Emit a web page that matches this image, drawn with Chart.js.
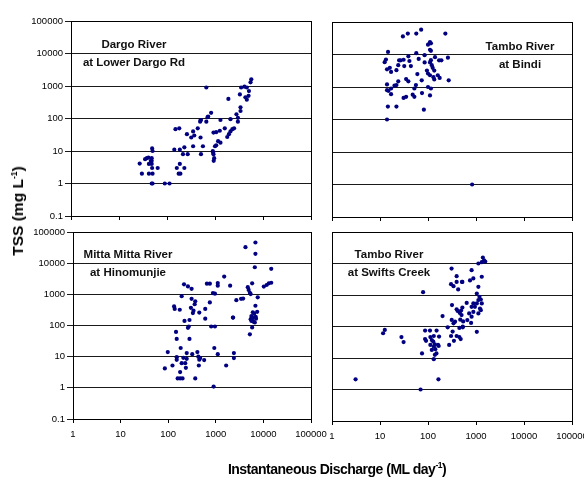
<!DOCTYPE html>
<html>
<head>
<meta charset="utf-8">
<script src="https://cdn.jsdelivr.net/npm/chart.js@4.4.1/dist/chart.umd.min.js"></script>
<style>
body{margin:0;width:584px;height:483px;overflow:hidden;background:#fff;position:relative;font-family:'Liberation Sans',Arial,sans-serif}
canvas{position:absolute;left:0;top:0}
.site{position:absolute;font-weight:bold;font-size:11.5px;line-height:18px;text-align:center;white-space:nowrap;transform:translateX(-50%);color:#111}
#ytitle{position:absolute;left:18px;top:211px;font-weight:bold;font-size:15.5px;white-space:nowrap;transform:translate(-50%,-50%) rotate(-90deg)}
#xtitle{position:absolute;left:337px;top:469px;font-weight:bold;font-size:14px;letter-spacing:-0.5px;white-space:nowrap;transform:translate(-50%,-50%)}
sup{font-size:8.5px;vertical-align:6px;line-height:0}
</style>
</head>
<body>
<canvas id="dargo" width="600" height="483"></canvas>
<canvas id="bindi" width="600" height="483"></canvas>
<canvas id="mitta" width="600" height="483"></canvas>
<canvas id="swifts" width="600" height="483"></canvas>
<div class="site" style="left:134px;top:35px">Dargo River<br>at Lower Dargo Rd</div>
<div class="site" style="left:520px;top:37px">Tambo River<br>at Bindi</div>
<div class="site" style="left:128px;top:245px">Mitta Mitta River<br>at Hinomunjie</div>
<div class="site" style="left:389px;top:245px">Tambo River<br>at Swifts Creek</div>
<div id="ytitle">TSS (mg L<sup>-1</sup>)</div>
<div id="xtitle">Instantaneous Discharge (ML day<sup>-1</sup>)</div>
<script>
'use strict';
const qTicks = [1, 10, 100, 1000, 10000, 100000];
const tssTicks = [0.1, 1, 10, 100, 1000, 10000, 100000];

// Dargo River at Lower Dargo Rd
const dargoQ = [27,30,35,38,41,42,42,46,48,50,49,50,48,48,48,49,50,64,90,113,142,150,180,160,175,190,185,185,215,230,270,230,260,320,350,370,350,437,490,500,510,500,510,560,660,660,700,720,830,900,910,930,940,960,930,1060,1000,1060,1160,1260,1300,1300,1600,1800,1950,2100,2300,2500,1900,2100,2800,3000,3000,3300,3400,3400,3500,4100,4300,4600,4600,5000,5100,5500,5700];
const dargoTSS = [4.1,2,5.6,6,6.3,4,2,5,1,1,12,10,6,5,4,3,2,3,1,1,11,47,50,3,2,2,4,11,8,13,8,3,33,26,40,30,14,50,80,90,90,26,8,14,900,80,110,115,150,10,9,8,5,6,37,38,14,15,20,42,18,90,50,27,33,40,47,50,400,95,135,105,80,550,170,220,900,950,450,900,380,500,700,1300,1600];

// Tambo River at Bindi
const bindiQ = [14.7,12.5,13.3,14,16,17,14,15,14,17,17,14.6,14,22,22,24,25,20,22,24,27,31,32,30,38,31,35,35,39,39,41,44,48,52,52,56,60,57,72,57,64,74,75,82,85,85,95,100,100,110,115,110,115,110,115,120,125,135,130,110,100,115,110,140,170,190,135,160,175,230,260,270,830];
const bindiTSS = [12000,5800,7000,3500,3900,2900,1200,760,800,600,900,250,100,250,3300,4700,6600,1100,1150,1500,6600,6900,4400,36000,44000,460,500,1750,1500,8800,6300,4400,580,500,900,1150,2500,44000,58000,11000,7300,1600,650,200,9500,5700,3200,2600,20000,24000,22000,14000,13000,5700,6700,4700,3900,3200,2000,2300,1000,900,550,8300,6600,6600,1700,2300,1900,44000,8000,1600,1];

// Mitta Mitta River at Hinomunjie
const mittaQ = [85,98,123,133,137,146,151,151,151,158,178,200,175,183,178,192,192,208,215,220,228,235,245,245,260,260,270,280,280,300,310,310,320,330,340,360,370,370,410,430,470,450,440,450,570,600,600,650,750,750,800,870,960,930,960,900,1100,1100,1100,1500,1650,2000,2300,2400,2400,2700,3400,3750,4200,6800,6800,6600,14600,5800,4700,4900,5200,5400,10200,11700,13000,14600,7600,6800,7400,2300,6000,6400,5600,6000,5400,7000,5800,6300,6600,6900,5600,5800,5200];
const mittaTSS = [4.2,14,5.2,410,340,62,37,9.6,7.9,2,2,2,320,19,3.2,870,6.2,9.2,2100,140,6.2,4.4,13,8.5,1800,84,93,150,37,370,720,1500,12,250,300,480,600,2,14,10,9,8,5.2,260,7.8,340,165,2200,2200,550,93,1100,1050,19,93,1.1,2300,1900,12,3700,5.2,1900,180,13,9,650,720,730,32600,46000,20000,7400,6600,2250,1700,1380,1120,1020,1770,1990,2250,2350,800,430,275,180,265,240,200,180,160,165,145,130,125,190,140,87,52];

// Tambo River at Swifts Creek
const swiftsQ = [3.1,11.6,12.6,28,31,70,75,79,87,110,151,87,91,112,120,132,129,170,162,112,139,132,120,142,167,139,150,132,165,276,201,257,302,326,347,312,366,340,395,450,480,316,395,415,460,470,500,490,520,540,530,530,450,660,640,720,810,810,790,1040,880,950,880,1040,1120,1180,1260,1320,1040,1210,1260,1120,1120,880,1320,810,1120,1320,1390,1470,1560,510,750,310,395,302,340,425,395,520];
const swiftsTSS = [2.1,61,78,46,32,1,14,1230,74,74,74,40,35,46,37,50,33,48,26,26,27,23,18,19,24,12.6,14,9.2,2.1,26,215,94,50,69,35,162,142,126,50,46,40,480,350,310,270,165,230,320,400,145,100,94,90,160,560,260,420,205,130,68,290,420,540,540,690,880,720,540,1110,370,330,260,1820,3360,3800,6150,10000,11000,15500,12600,11500,2600,2900,6900,3950,2200,1900,1500,2600,2600];

Chart.defaults.font.family = "'Liberation Sans', Arial, sans-serif";
Chart.defaults.color = '#000';

const frame = {
  id: 'frame',
  afterDraw(chart) {
    const a = chart.chartArea;
    const ctx = chart.ctx;
    ctx.save();
    ctx.strokeStyle = '#000';
    ctx.lineWidth = 1;
    ctx.strokeRect(Math.round(a.left) + 0.5, Math.round(a.top) + 0.5, Math.round(a.right - a.left), Math.round(a.bottom - a.top));
    ctx.restore();
  }
};

function toPoints(xs, ys) {
  return xs.map((x, i) => ({x: x, y: ys[i]}));
}

// area = [left, top, right, bottom] of the plot box
function panel(id, xs, ys, area, showX, showY) {
  const W = 600, H = 483;
  const yw = showY ? 40 : 0;
  const xh = showX ? 24 : 4;
  new Chart(document.getElementById(id), {
    type: 'scatter',
    data: {
      datasets: [{
        data: toPoints(xs, ys),
        backgroundColor: '#000080',
        borderWidth: 0,
        pointRadius: 2.1
      }]
    },
    options: {
      responsive: false,
      animation: false,
      events: [],
      layout: {padding: {left: area[0] - yw, top: area[1], right: W - area[2], bottom: H - area[3] - xh}},
      plugins: {legend: {display: false}, tooltip: {enabled: false}},
      scales: {
        x: {
          type: 'logarithmic', min: 1, max: 100000,
          afterBuildTicks: s => { s.ticks = qTicks.map(v => ({value: v})); },
          afterFit: s => { s.height = xh; },
          grid: {drawOnChartArea: false, drawTicks: true, tickLength: 4, color: '#000'},
          border: {color: '#000'},
          ticks: {display: showX, padding: 6, font: {size: 9.5}, maxRotation: 0, autoSkip: false, callback: v => String(v)}
        },
        y: {
          type: 'logarithmic', min: 0.1, max: 100000,
          afterBuildTicks: s => { s.ticks = tssTicks.map(v => ({value: v})); },
          afterFit: s => { s.width = yw; },
          grid: {drawOnChartArea: true, drawTicks: showY, tickLength: 6, color: '#1a1a1a'},
          border: {color: '#000'},
          ticks: {display: showY, padding: 2, font: {size: 9.5}, autoSkip: false, callback: v => String(v)}
        }
      }
    },
    plugins: [frame]
  });
}

panel('dargo', dargoQ, dargoTSS, [71, 21, 311, 216], false, true);
panel('bindi', bindiQ, bindiTSS, [332, 22, 572, 217], false, false);
panel('mitta', mittaQ, mittaTSS, [73, 232, 311, 419], true, true);
panel('swifts', swiftsQ, swiftsTSS, [332, 232, 572, 421], true, false);
</script>
</body>
</html>
